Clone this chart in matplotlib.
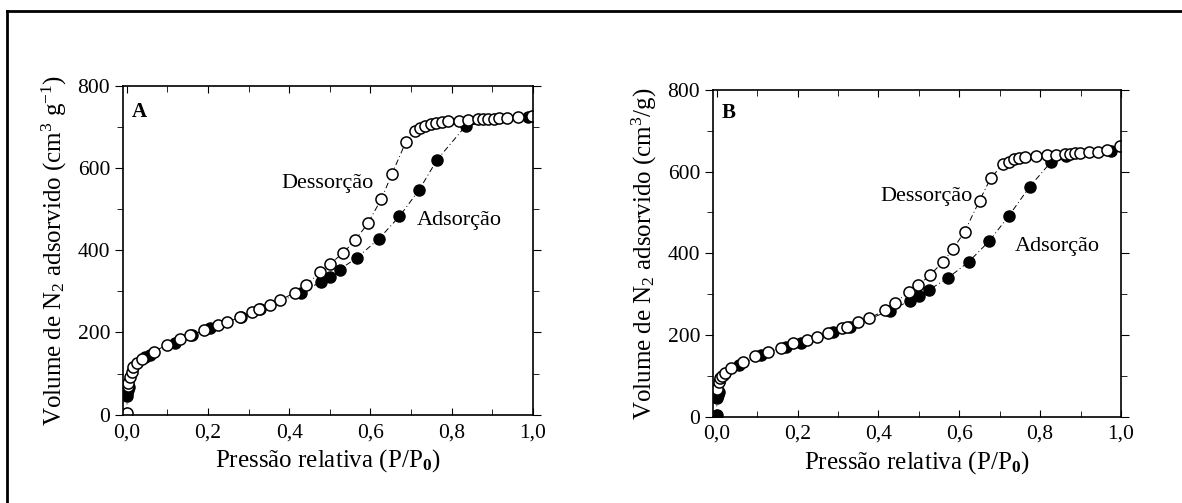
#isotermas de adsorcao/dessorcao de N2 - paineis A e B
import numpy as np
import matplotlib
matplotlib.use('Agg')
import matplotlib.pyplot as plt
from matplotlib.ticker import MultipleLocator, FuncFormatter
from matplotlib.lines import Line2D

plt.rcParams['font.family'] = ['Liberation Serif', 'DejaVu Serif']
plt.rcParams['mathtext.fontset'] = 'custom'
plt.rcParams['mathtext.rm'] = 'Liberation Serif'
plt.rcParams['mathtext.it'] = 'Liberation Serif:italic'
plt.rcParams['mathtext.bf'] = 'Liberation Serif:bold'

# painel A - adsorcao (simbolos cheios)
pA_ads = [0.0, 0.0, 0.002, 0.005, 0.045, 0.056, 0.118, 0.16, 0.205, 0.282, 0.329, 0.428,
          0.478, 0.5, 0.524, 0.567, 0.621, 0.671, 0.72, 0.764, 0.835, 0.988]
vA_ads = [45, 53, 60, 68, 141, 145, 175, 194, 210, 238, 256, 297,
          323, 335, 353, 382, 428, 482, 547, 620, 703, 725]
# painel A - dessorcao (simbolos abertos)
pA_des = [0.0, 0.002, 0.004, 0.008, 0.012, 0.016, 0.025, 0.037, 0.066, 0.099, 0.131,
          0.156, 0.189, 0.224, 0.248, 0.28, 0.309, 0.325, 0.353, 0.378, 0.414, 0.442,
          0.476, 0.5, 0.533, 0.562, 0.594, 0.627, 0.653, 0.687, 0.71, 0.722, 0.734,
          0.748, 0.762, 0.776, 0.79, 0.818, 0.839, 0.864, 0.877, 0.889, 0.903, 0.917,
          0.936, 0.964, 0.997]
vA_des = [4, 70, 76, 92, 105, 115, 125, 135, 153, 170, 183,
          194, 206, 218, 226, 238, 250, 256, 268, 279, 297, 315,
          347, 366, 394, 424, 466, 525, 586, 663, 689, 697, 703,
          707, 710, 711, 713, 715, 717, 718, 718, 719, 720, 721,
          722, 723, 726]

# painel B - adsorcao
pB_ads = [0.0, 0.0, 0.002, 0.005, 0.054, 0.11, 0.171, 0.208, 0.288, 0.33, 0.428, 0.478,
          0.5, 0.524, 0.571, 0.624, 0.674, 0.722, 0.774, 0.827, 0.864, 0.975]
vB_ads = [4, 45, 53, 60, 127, 151, 171, 181, 208, 220, 260, 284,
          296, 310, 339, 380, 430, 491, 563, 624, 638, 651]
# painel B - dessorcao
pB_des = [0.0, 0.005, 0.009, 0.014, 0.021, 0.036, 0.066, 0.094, 0.126, 0.16, 0.188,
          0.222, 0.248, 0.276, 0.309, 0.322, 0.35, 0.377, 0.417, 0.44, 0.475, 0.499,
          0.528, 0.56, 0.584, 0.613, 0.65, 0.678, 0.708, 0.722, 0.735, 0.748, 0.762,
          0.79, 0.818, 0.839, 0.861, 0.874, 0.886, 0.898, 0.92, 0.942, 0.965, 0.997]
vB_des = [69, 86, 94, 100, 106, 118, 135, 149, 159, 167, 180,
          189, 196, 206, 218, 220, 233, 241, 261, 278, 306, 322,
          347, 380, 410, 453, 529, 585, 618, 624, 630, 633, 636,
          638, 641, 642, 643, 644, 645, 646, 647, 649, 653, 663]

fig = plt.figure(figsize=(11.82, 5.03), dpi=100)

# moldura (so esquerda e topo aparecem)
fig.add_artist(Line2D([7/1182, 7/1182], [0, 1 - 11/503], transform=fig.transFigure, color='black', lw=2))
fig.add_artist(Line2D([7/1182, 1], [1 - 11/503, 1 - 11/503], transform=fig.transFigure, color='black', lw=2))

panels = [
    ([0.1038, 0.1755, 0.3471, 0.6541], pA_ads, vA_ads, pA_des, vA_des, 'A',
     r'Volume de N$_2$ adsorvido (cm$^3$ g$^{-1}$)', (0.38, 563), (0.715, 473), 737),
    ([0.6030, 0.1716, 0.3454, 0.6495], pB_ads, vB_ads, pB_des, vB_des, 'B',
     r'Volume de N$_2$ adsorvido (cm$^3$/g)', (0.404, 539), (0.738, 416), 743),
]

comma = FuncFormatter(lambda v, pos: ('%.1f' % v).replace('.', ','))

for rect, pa, va, pd, vd, tag, ylab, dpos, apos, tagy in panels:
    ax = fig.add_axes(rect)
    ax.plot(pa, va, linestyle=(0, (6, 3, 1, 3)), color='black', lw=0.7,
            marker='o', markersize=8, markerfacecolor='black', markeredgecolor='black')
    ax.plot(pd, vd, linestyle=(0, (6, 3, 1, 3)), color='black', lw=0.7,
            marker='o', markersize=8, markerfacecolor='white', markeredgecolor='black',
            markeredgewidth=1.1)
    ax.set_xlim(-0.01, 1.0)
    ax.set_ylim(0, 800)
    ax.xaxis.set_major_locator(MultipleLocator(0.2))
    ax.xaxis.set_minor_locator(MultipleLocator(0.1))
    ax.yaxis.set_major_locator(MultipleLocator(200))
    ax.yaxis.set_minor_locator(MultipleLocator(100))
    ax.xaxis.set_major_formatter(comma)
    ax.tick_params(axis='x', which='both', direction='in', top=True, labelsize=15.5, pad=6)
    ax.tick_params(axis='x', which='major', length=5)
    ax.tick_params(axis='x', which='minor', length=4)
    ax.tick_params(axis='y', which='both', direction='out', labelsize=15.5, pad=3)
    ax.tick_params(axis='y', which='major', length=6)
    ax.tick_params(axis='y', which='minor', length=4)
    ax.tick_params(axis='y', which='both', right=True)
    for sp in ax.spines.values():
        sp.set_linewidth(1.2)
    ax.set_xlabel(r'Pressão relativa (P/P$_\mathbf{0}$)', fontsize=18, labelpad=4)
    ax.set_ylabel(ylab, fontsize=18, labelpad=6)
    ax.text(0.012, tagy, tag, fontsize=15, fontweight='bold', va='center', ha='left')
    ax.text(dpos[0], dpos[1], 'Dessorção', fontsize=16, va='center', ha='left')
    ax.text(apos[0], apos[1], 'Adsorção', fontsize=16, va='center', ha='left')

fig.savefig('out.png', dpi=100)
